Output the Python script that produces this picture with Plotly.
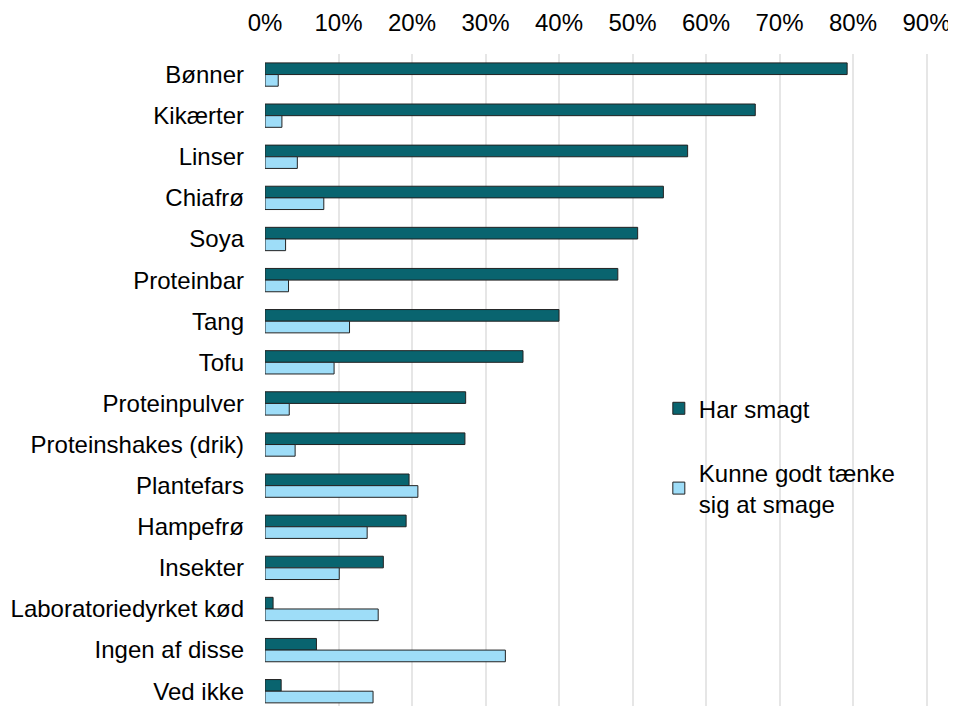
import plotly.graph_objects as go

categories = ["Bønner", "Kikærter", "Linser", "Chiafrø", "Soya", "Proteinbar", "Tang", "Tofu",
              "Proteinpulver", "Proteinshakes (drik)", "Plantefars", "Hampefrø", "Insekter",
              "Laboratoriedyrket kød", "Ingen af disse", "Ved ikke"]
har_smagt = [79.2, 66.7, 57.5, 54.2, 50.7, 48.0, 40.0, 35.1, 27.3, 27.2, 19.6, 19.2, 16.1, 1.1, 7.0, 2.2]
kunne_smage = [1.8, 2.3, 4.4, 8.0, 2.8, 3.2, 11.5, 9.4, 3.3, 4.1, 20.8, 13.9, 10.1, 15.4, 32.7, 14.7]
series_names = ["Har smagt", "Kunne godt tænke<br>sig at smage"]
tick_vals = [0, 10, 20, 30, 40, 50, 60, 70, 80, 90]
tick_labels = ["0%", "10%", "20%", "30%", "40%", "50%", "60%", "70%", "80%", "90%"]

FONT = "Liberation Sans, Arial, sans-serif"

fig = go.Figure()
fig.add_trace(go.Bar(y=categories, x=har_smagt, orientation="h", name=series_names[0],
                     legendgroup="a",
                     marker=dict(color="#09646F", line=dict(color="#222222", width=1))))
fig.add_trace(go.Bar(y=categories, x=kunne_smage, orientation="h", name=series_names[1],
                     legendgroup="b",
                     marker=dict(color="#9EDDF8", line=dict(color="#222222", width=1))))

fig.update_layout(
    width=948, height=698,
    margin=dict(l=257, r=28, t=46, b=0),
    paper_bgcolor="white", plot_bgcolor="white",
    barmode="group", bargap=0.433, bargroupgap=0,
    font=dict(family=FONT, size=24, color="#000000"),
    showlegend=True,
    legend=dict(x=0.594, xanchor="left", y=0.4905, yanchor="top",
                traceorder="grouped", tracegroupgap=30,
                font=dict(family=FONT, size=24, color="#000000"),
                bgcolor="rgba(255,255,255,0)"),
    xaxis=dict(side="top", range=[0, 90.2], tickvals=tick_vals, ticktext=tick_labels,
               showgrid=True, gridcolor="#E6E6E6", gridwidth=1.5, automargin=False,
               zeroline=False, showline=False, ticks="", ticklabelstandoff=17,
               tickfont=dict(family=FONT, size=24)),
    yaxis=dict(type="category", range=[15.36, -0.5], showgrid=False, zeroline=False,
               showline=False, ticks="", ticklabelstandoff=20, automargin=False,
               tickfont=dict(family=FONT, size=24)),
)

fig.write_html("out.html")
